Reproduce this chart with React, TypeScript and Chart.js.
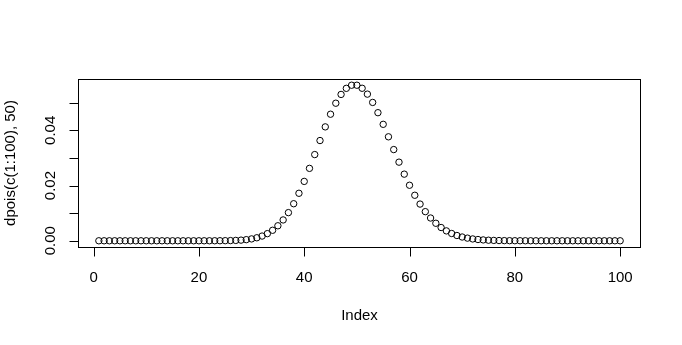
import React, { useEffect, useRef } from "react";
import { Chart, registerables } from "chart.js";

Chart.register(...registerables);

// dpois(c(1:100), 50), read per index 1..100
const VALUES: number[] = [
  0, 0, 0, 0, 0, 0, 0, 0, 0, 0,
  0, 0, 0, 0, 0, 0, 0, 0, 0, 0.0000008,
  0.0000018, 0.0000041, 0.0000089, 0.0000185, 0.0000371, 0.0000713, 0.000132, 0.000236, 0.000406, 0.000677,
  0.001092, 0.001707, 0.002586, 0.003803, 0.005433, 0.007545, 0.010196, 0.013416, 0.0172, 0.0215,
  0.02622, 0.031214, 0.036295, 0.041244, 0.045827, 0.049812, 0.052991, 0.055199, 0.056325, 0.056325,
  0.055221, 0.053097, 0.050092, 0.046381, 0.042165, 0.037647, 0.033024, 0.028469, 0.024126, 0.020105,
  0.01648, 0.01329, 0.010548, 0.008241, 0.006339, 0.004802, 0.003584, 0.002635, 0.00191, 0.001364,
  0.000961, 0.000667, 0.000457, 0.000309, 0.000206, 0.000135, 0.0000879, 0.0000563, 0.0000357, 0.0000223,
  0.0000138, 0.0000084, 0.000005, 0.000003, 0.0000018, 0.000001, 0, 0, 0, 0,
  0, 0, 0, 0, 0, 0, 0, 0, 0, 0,
];

const X_TICKS: number[] = [0, 20, 40, 60, 80, 100];
const Y_TICKS: number[] = [0, 0.01, 0.02, 0.03, 0.04, 0.05];
const Y_TICK_LABELS: string[] = ["0.00", "", "0.02", "", "0.04", ""];
const X_TITLE = "Index";
const Y_TITLE = "dpois(c(1:100), 50)";

const FONT = '15px "Liberation Sans", Arial, sans-serif';

const rAxesPlugin = {
  id: "rAxes",
  afterDraw(chart: any) {
    const { ctx, chartArea: ca, scales } = chart;
    const xs = scales.x;
    const ys = scales.y;
    ctx.save();
    ctx.strokeStyle = "#000";
    ctx.fillStyle = "#000";
    ctx.lineWidth = 1;
    // box
    ctx.strokeRect(ca.left + 0.5, ca.top + 0.5, ca.right - ca.left - 1, ca.bottom - ca.top);
    const bottom = ca.bottom + 0.5;
    // x axis
    ctx.beginPath();
    ctx.moveTo(Math.round(xs.getPixelForValue(X_TICKS[0])) + 0.5, bottom);
    ctx.lineTo(Math.round(xs.getPixelForValue(X_TICKS[X_TICKS.length - 1])) + 0.5, bottom);
    for (const v of X_TICKS) {
      const px = Math.round(xs.getPixelForValue(v)) + 0.5;
      ctx.moveTo(px, bottom);
      ctx.lineTo(px, bottom + 9);
    }
    ctx.stroke();
    ctx.font = FONT;
    ctx.textAlign = "center";
    ctx.textBaseline = "alphabetic";
    for (const v of X_TICKS) {
      ctx.fillText(String(v), xs.getPixelForValue(v), 282);
    }
    ctx.fillText(X_TITLE, (ca.left + ca.right) / 2, 320);
    // y axis
    const left = ca.left + 0.5;
    ctx.beginPath();
    ctx.moveTo(left, Math.round(ys.getPixelForValue(Y_TICKS[0])) + 0.5);
    ctx.lineTo(left, Math.round(ys.getPixelForValue(Y_TICKS[Y_TICKS.length - 1])) + 0.5);
    for (const v of Y_TICKS) {
      const py = Math.round(ys.getPixelForValue(v)) + 0.5;
      ctx.moveTo(left, py);
      ctx.lineTo(left - 9, py);
    }
    ctx.stroke();
    Y_TICKS.forEach((v, i) => {
      const lab = Y_TICK_LABELS[i];
      if (!lab) return;
      ctx.save();
      ctx.translate(55, ys.getPixelForValue(v));
      ctx.rotate(-Math.PI / 2);
      ctx.fillText(lab, 0, 0);
      ctx.restore();
    });
    ctx.save();
    ctx.translate(15, (ca.top + ca.bottom) / 2);
    ctx.rotate(-Math.PI / 2);
    ctx.fillText(Y_TITLE, 0, 0);
    ctx.restore();
    ctx.restore();
  },
};

export default function App() {
  const ref = useRef<HTMLCanvasElement>(null);
  useEffect(() => {
    if (!ref.current) return;
    const yMax = Math.max(...VALUES);
    const yPad = yMax * 0.04;
    const chart = new Chart(ref.current, {
      type: "scatter",
      data: {
        datasets: [
          {
            data: VALUES.map((v, i) => ({ x: i + 1, y: v })),
            pointStyle: "circle",
            pointRadius: 3.2,
            pointBorderWidth: 1,
            pointBorderColor: "#000",
            pointBackgroundColor: "rgba(0,0,0,0)",
            showLine: false,
          },
        ],
      },
      options: {
        responsive: false,
        animation: false,
        events: [],
        layout: { padding: { left: 78, right: 41, top: 79, bottom: 98 } },
        plugins: { legend: { display: false }, tooltip: { enabled: false } },
        scales: {
          x: { type: "linear", display: false, min: 1 - 99 * 0.04, max: 100 + 99 * 0.04 },
          y: { type: "linear", display: false, min: -yPad, max: yMax + yPad },
        },
      },
      plugins: [rAxesPlugin],
    });
    return () => chart.destroy();
  }, []);
  return (
    <div style={{ position: "fixed", left: 0, top: 0, width: 682, height: 345, background: "#fff" }}>
      <canvas ref={ref} width={682} height={345} style={{ display: "block" }} />
    </div>
  );
}
